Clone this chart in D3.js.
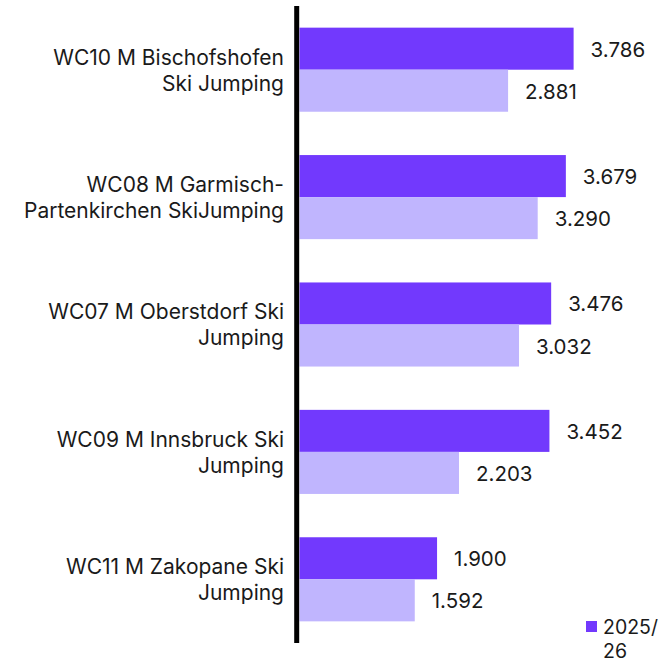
<!DOCTYPE html>
<html>
<head>
<meta charset="utf-8">
<script src="https://cdn.jsdelivr.net/npm/d3@7"></script>
<style>
  html, body { margin: 0; padding: 0; background: #fff; }
  svg { display: block; font-family: Inter, "Noto Sans", sans-serif; }
</style>
</head>
<body>
<svg id="chart" width="666" height="662"></svg>
<script>
  // chart data
  const categories = [
    ['WC10 M Bischofshofen', 'Ski Jumping'],
    ['WC08 M Garmisch-', 'Partenkirchen SkiJumping'],
    ['WC07 M Oberstdorf Ski', 'Jumping'],
    ['WC09 M Innsbruck Ski', 'Jumping'],
    ['WC11 M Zakopane Ski', 'Jumping']
  ];
  const seriesNames = ['2025/26', '2024/25'];
  const current = [3.786, 3.679, 3.476, 3.452, 1.900];
  const previous = [2.881, 3.290, 3.032, 2.203, 1.592];
  const colors = ['#7239fd', '#c0b5fe'];

  let width = 666, height = 662,
    svg = d3.select('#chart');

  let x0 = 299.5;
  let x = d3.scaleLinear().domain([0, 4]).range([x0, x0 + 4 * 72.4]);
  let y = d3.scaleBand()
    .domain(d3.range(categories.length))
    .range([6, 643])
    .paddingInner(0.34)
    .paddingOuter(0.17);
  let sub = d3.scaleBand().domain([0, 1]).range([0, y.bandwidth()]);

  let rows = categories.map((c, i) => ({ i: i, label: c, values: [current[i], previous[i]] }));

  let g = svg.selectAll('.group').data(rows).enter().append('g')
    .attr('class', 'group')
    .attr('transform', d => 'translate(0,' + y(d.i) + ')');

  g.selectAll('rect').data(d => d.values).enter().append('rect')
    .attr('x', x(0))
    .attr('y', (v, j) => sub(j))
    .attr('width', v => x(v) - x(0))
    .attr('height', sub.bandwidth())
    .attr('fill', (v, j) => colors[j]);

  g.selectAll('.value').data(d => d.values).enter().append('text')
    .attr('class', 'value')
    .attr('x', v => x(v) + 17)
    .attr('y', (v, j) => sub(j) + sub.bandwidth() / 2 + 8)
    .attr('font-size', 20.5)
    .attr('fill', '#1a1a1a')
    .text(v => d3.format('.3f')(v));

  let label = g.append('text')
    .attr('class', 'label')
    .attr('text-anchor', 'end')
    .attr('font-size', 21)
    .attr('fill', '#1a1a1a');
  label.selectAll('tspan').data(d => d.label).enter().append('tspan')
    .attr('x', 284)
    .attr('y', (t, k) => y.bandwidth() / 2 - 5 + k * 26)
    .text(t => t);

  // axis line
  svg.append('line')
    .attr('x1', 296.7).attr('x2', 296.7)
    .attr('y1', 6).attr('y2', 643)
    .attr('stroke', '#000')
    .attr('stroke-width', 5);

  // legend
  let legend = svg.append('g').attr('transform', 'translate(586,621)');
  legend.append('rect')
    .attr('width', 11).attr('height', 11)
    .attr('fill', colors[0]);
  legend.append('text')
    .attr('font-size', 19.5)
    .attr('fill', '#1a1a1a')
    .selectAll('tspan').data(['2025/', '26']).enter().append('tspan')
    .attr('x', 17)
    .attr('y', (t, k) => 13 + k * 23.5)
    .text(t => t);
</script>
</body>
</html>
